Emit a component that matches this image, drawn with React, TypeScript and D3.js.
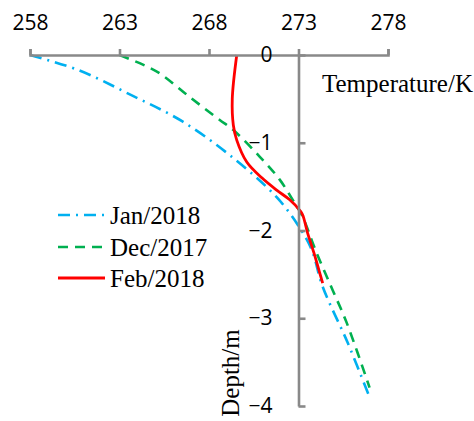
import React, { useEffect, useRef } from "react";
import * as d3 from "d3";

// Soil temperature profiles: [temperature K, depth m]
const jan2018: [number, number][] = [
  [258.0, 0], [260.68, -0.17], [263.69, -0.46], [266.54, -0.76], [269.27, -1.16],
  [271.78, -1.62], [273.07, -1.97], [273.74, -2.22], [274.35, -2.64], [275.75, -3.28],
  [276.97, -3.9],
];
const dec2017: [number, number][] = [
  [263.0, 0], [264.31, -0.11], [265.25, -0.21], [266.93, -0.48], [268.6, -0.74],
  [269.33, -0.85], [270.84, -1.16], [271.95, -1.42], [272.79, -1.69], [273.18, -1.82],
  [274.02, -2.26], [274.91, -2.68], [275.69, -3.05], [276.97, -3.79],
];
const feb2018: [number, number][] = [
  [269.55, 0], [269.3, -0.5], [269.36, -0.8], [269.55, -0.97], [270.11, -1.22],
  [270.95, -1.4], [271.78, -1.54], [272.51, -1.65], [273.07, -1.77], [273.23, -1.82],
  [273.51, -2.03], [273.9, -2.28], [274.18, -2.48], [274.35, -2.6],
];

const tempTicks = [258, 263, 268, 273, 278];
const depthTicks = [0, -1, -2, -3, -4];

const seriesNames = ["Jan/2018", "Dec/2017", "Feb/2018"];
const seriesColors = ["#00B0F0", "#00B050", "#FF0000"];
const seriesDash = ["12 6 2 6", "10 7", "none"];
const seriesWidth = [2.6, 2.6, 2.8];

export default function App() {
  const xRef = useRef<SVGGElement>(null);
  const yRef = useRef<SVGGElement>(null);

  const W = 474;
  const H = 421;
  const x = d3.scaleLinear().domain([258, 278]).range([30, 388]);
  const y = d3.scaleLinear().domain([0, -4]).range([55, 406]);
  const axisX = x(273);

  useEffect(() => {
    const gx = d3.select(xRef.current!);
    gx.selectAll("*").remove();
    gx.call(
      d3.axisTop(x).tickValues(tempTicks).tickSize(6).tickSizeOuter(6).tickPadding(19).tickFormat(d3.format("d"))
    );
    const gy = d3.select(yRef.current!);
    gy.selectAll("*").remove();
    gy.call(
      d3.axisLeft(y).tickValues(depthTicks).tickSize(-7).tickSizeOuter(0).tickPadding(26).tickFormat(d3.format("d"))
    );
    [gx, gy].forEach((g) => {
      g.select(".domain").attr("stroke", "#898989").attr("stroke-width", 2.6);
      g.selectAll(".tick line").attr("stroke", "#898989").attr("stroke-width", 2.6);
      g.selectAll(".tick text")
        .attr("fill", "#000")
        .attr("font-family", "'Open Sans', sans-serif")
        .attr("font-size", 21);
    });
  }, []);

  const line = d3
    .line<[number, number]>()
    .x((d) => x(d[0]))
    .y((d) => y(d[1]))
    .curve(d3.curveCatmullRom.alpha(0.5));

  const series = [jan2018, dec2017, feb2018];
  const legendY = [215, 247, 278];

  return (
    <svg
      width={W}
      height={H}
      style={{ position: "absolute", left: 0, top: 0, background: "#fff" }}
      fontFamily="'Liberation Serif', 'Times New Roman', serif"
    >
      <rect width={W} height={H} fill="#fff" />
      {series.map((s, i) => (
        <path
          key={seriesNames[i]}
          d={line(s) || ""}
          fill="none"
          stroke={seriesColors[i]}
          strokeWidth={seriesWidth[i]}
          strokeDasharray={seriesDash[i]}
        />
      ))}
      <g ref={xRef} transform={`translate(0,${y(0)})`} />
      <g ref={yRef} transform={`translate(${axisX},0)`} />
      <text x={322} y={92} fontSize={25} fill="#000">
        Temperature/K
      </text>
      <text transform="translate(239,373) rotate(-90)" textAnchor="middle" fontSize={25} fill="#000">
        Depth/m
      </text>
      {seriesNames.map((n, i) => (
        <g key={n}>
          <line
            x1={58}
            x2={105}
            y1={legendY[i]}
            y2={legendY[i]}
            stroke={seriesColors[i]}
            strokeWidth={seriesWidth[i]}
            strokeDasharray={seriesDash[i]}
          />
          <text x={110} y={legendY[i] + 9} fontSize={25} fill="#000">
            {n}
          </text>
        </g>
      ))}
    </svg>
  );
}
